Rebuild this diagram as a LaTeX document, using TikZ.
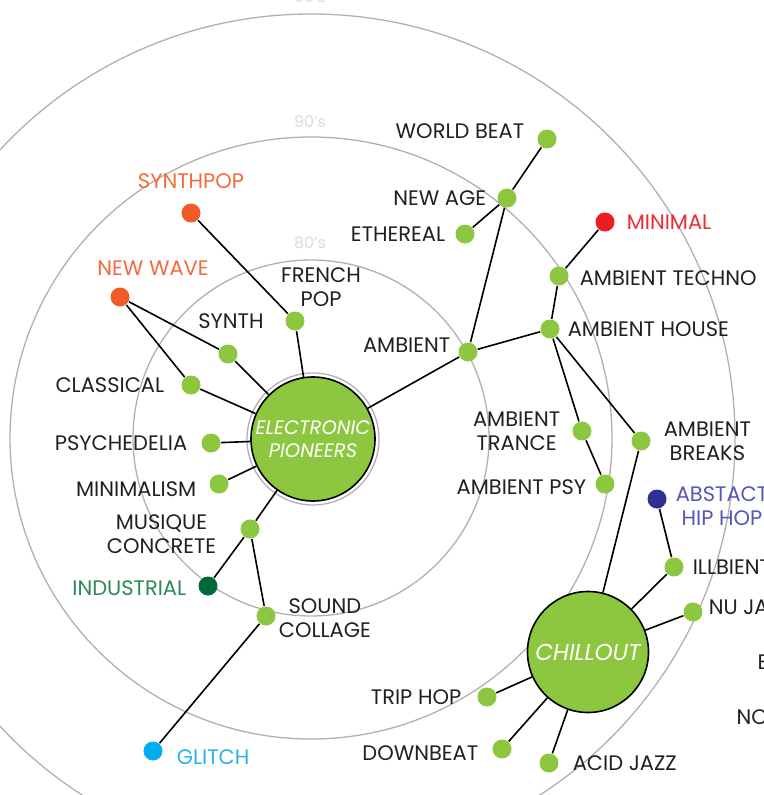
\documentclass[tikz,border=0pt]{standalone}
\usepackage{fontspec}
\setsansfont{Poppins}
\usetikzlibrary{positioning}

\definecolor{leaf}{HTML}{8DC63F}
\definecolor{ink}{HTML}{231F20}
\definecolor{era}{HTML}{B7ADAD}
\definecolor{eratext}{HTML}{DCDCDC}
\definecolor{popdot}{HTML}{F15A29}
\definecolor{poptext}{HTML}{F26B3A}
\definecolor{mindot}{HTML}{ED1C24}
\definecolor{mintext}{HTML}{EE2A35}
\definecolor{hiphopdot}{HTML}{2E3192}
\definecolor{hiphoptext}{HTML}{5457B5}
\definecolor{inddot}{HTML}{00693A}
\definecolor{indtext}{HTML}{2B8A5B}
\definecolor{glitchdot}{HTML}{00AEEF}
\definecolor{glitchtext}{HTML}{29B3EA}

\begin{document}
\begin{tikzpicture}[x=1pt,y=-1pt,line width=1.3pt,
    font=\sffamily\fontsize{21}{23.5}\selectfont]
	\tikzstyle{genre}=[circle,fill=leaf,minimum size=19pt,inner sep=0pt]
	\tikzstyle{hub}=[circle,fill=leaf,draw=black,line width=1.6pt,inner sep=0pt,
		text=white,align=center]
	\tikzstyle{gname}=[inner sep=0pt,text=ink,align=center]
	\tikzstyle{ring}=[draw=era,line width=1.3pt]
	\tikzstyle{decade}=[text=eratext,font=\sffamily\fontsize{16}{18}\selectfont]
	\tikzstyle{every edge}=[draw=black,line width=1.6pt]

	\useasboundingbox (0,0) rectangle (763,795);
	\clip (0,0) rectangle (763,795);

	% decades
	\draw[ring] (311,438) circle[radius=178pt];
	\draw[ring] (311,438) circle[radius=301pt];
	\draw[ring] (311,438) circle[radius=424pt];
	\node[decade] (d80) at (310,243) {80's};
	\node[decade] (d90) at (310,122) {90's};
	\node[decade] (d00) at (310,-3)  {00's};

	% hubs
	\draw[ring,fill=white] (313,439) circle[radius=66pt];
	\node[hub,minimum size=124pt,font=\sffamily\itshape\fontsize{19.5}{23}\selectfont]
		(ep) at (313,439) {ELECTRONIC\\PIONEERS};
	\node[hub,minimum size=121pt,font=\sffamily\itshape\fontsize{23}{24}\selectfont]
		(chill) at (588,652) {CHILLOUT};

	% left branch
	\node[genre,fill=popdot] (synthpop)   at (191,213) {};
	\node[genre,fill=popdot] (newwave)    at (120,297) {};
	\node[genre]             (fpop)       at (295,321) {};
	\node[genre]             (synth)      at (228,354) {};
	\node[genre]             (classical)  at (191,385) {};
	\node[genre]             (psych)      at (211,443) {};
	\node[genre]             (minim)      at (219,484) {};
	\node[genre]             (musique)    at (250,529) {};
	\node[genre,fill=inddot] (industrial) at (208,586) {};
	\node[genre]             (scollage)   at (266,616) {};
	\node[genre,fill=glitchdot] (glitch)  at (153,751) {};

	\node[gname,text=poptext,above=14pt of synthpop] (synthpopl) {SYNTHPOP};
	\node[gname,text=poptext,above=11pt of newwave,xshift=33pt] (newwavel) {NEW WAVE};
	\node[gname,above=4pt of fpop,xshift=26pt] (fpopl) {FRENCH\\POP};
	\node[gname,above=15pt of synth,xshift=3pt] (synthl) {SYNTH};
	\node[gname,left=16pt of classical] (classicall) {CLASSICAL};
	\node[gname,left=13pt of psych] (psychl) {PSYCHEDELIA};
	\node[gname,left=12pt of minim,yshift=-5pt] (miniml) {MINIMALISM};
	\node[gname,left=23pt of musique,yshift=-5pt] (musiquel) {MUSIQUE\\CONCRETE};
	\node[gname,text=indtext,left=11pt of industrial,yshift=-2pt] (industriall) {INDUSTRIAL};
	\node[gname,right=2pt of scollage,yshift=-2pt] (scollagel) {SOUND\\COLLAGE};
	\node[gname,text=glitchtext,right=13pt of glitch,yshift=-6pt] (glitchl) {GLITCH};

	% right branch
	\node[genre]             (wbeat)     at (547,139) {};
	\node[genre]             (newage)    at (507,198) {};
	\node[genre]             (ethereal)  at (465,234) {};
	\node[genre,fill=mindot] (minimal)   at (605,222) {};
	\node[genre]             (atechno)   at (559,276) {};
	\node[genre]             (ahouse)    at (550,329) {};
	\node[genre]             (ambient)   at (468,352) {};
	\node[genre]             (atrance)   at (582,431) {};
	\node[genre]             (abreaks)   at (641,441) {};
	\node[genre]             (apsy)      at (605,484) {};
	\node[genre,fill=hiphopdot] (abstract) at (657,499) {};
	\node[genre]             (illbient)  at (674,567) {};
	\node[genre]             (nujazz)    at (693,612) {};
	\node[genre]             (triphop)   at (487,697) {};
	\node[genre]             (downbeat)  at (502,749) {};
	\node[genre]             (acidjazz)  at (549,763) {};

	\node[gname,left=12pt of wbeat,yshift=8pt] (wbeatl) {WORLD BEAT};
	\node[gname,left=10pt of newage] (newagel) {NEW AGE};
	\node[gname,left=9pt of ethereal] (ethereall) {ETHEREAL};
	\node[gname,text=mintext,right=11pt of minimal] (minimall) {MINIMAL};
	\node[gname,right=10pt of atechno,yshift=-2pt] (atechnol) {AMBIENT TECHNO};
	\node[gname,right=7pt of ahouse] (ahousel) {AMBIENT HOUSE};
	\node[gname,left=7pt of ambient,yshift=7pt] (ambientl) {AMBIENT};
	\node[gname,left=11pt of atrance] (atrancel) {AMBIENT\\TRANCE};
	\node[gname,right=12pt of abreaks] (abreaksl) {AMBIENT\\BREAKS};
	\node[gname,left=8pt of apsy,yshift=-3pt] (apsyl) {AMBIENT PSY};
	\node[gname,text=hiphoptext,right=8pt of abstract,yshift=-7pt] (abstractl) {ABSTACT\\HIP HOP};
	\node[gname,right=8pt of illbient] (illbientl) {ILLBIENT};
	\node[gname,right=5pt of nujazz,yshift=5pt] (nujazzl) {NU JAZZ};
	\node[gname,anchor=west] (bl) at (757,662) {B};
	\node[gname,anchor=west] (nol) at (736,717) {NO};
	\node[gname,left=15pt of triphop] (triphopl) {TRIP HOP};
	\node[gname,left=13pt of downbeat,yshift=-4pt] (downbeatl) {DOWNBEAT};
	\node[gname,right=13pt of acidjazz] (acidjazzl) {ACID JAZZ};

	\path (ep) edge (fpop) edge (synth) edge (classical) edge (psych)
				edge (minim) edge (musique) edge (ambient)
			(fpop) edge (synthpop)
			(synth) edge (newwave)
			(classical) edge (newwave)
			(musique) edge (industrial) edge (scollage)
			(scollage) edge (glitch)
			(ambient) edge (newage) edge (ahouse)
			(newage) edge (wbeat) edge (ethereal)
			(ahouse) edge (atechno) edge (atrance) edge (abreaks)
			(atechno) edge (minimal)
			(atrance) edge (apsy)
			(abreaks) edge (chill)
			(chill) edge (illbient) edge (nujazz) edge (triphop)
				edge (downbeat) edge (acidjazz)
			(illbient) edge (abstract);
\end{tikzpicture}
\end{document}
